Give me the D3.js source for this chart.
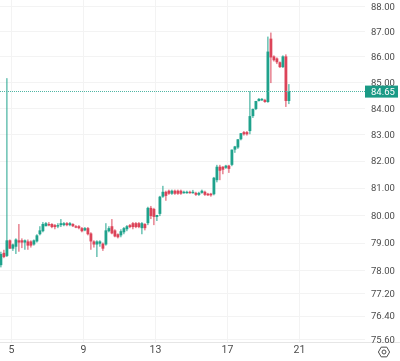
<!DOCTYPE html>
<html>
<head>
<meta charset="utf-8">
<script src="https://cdn.jsdelivr.net/npm/d3@7"></script>
<style>
  html, body { margin: 0; padding: 0; background: #fff; }
  svg { display: block; filter: blur(0.35px); }
  text { font-family: Roboto, "Liberation Sans", sans-serif; }
</style>
</head>
<body>
<div id="chart"></div>
<script>
// Set Dimensions
const width = 400;
const height = 361;

// Candle values, one row per 4h bar
const opens = [78.19,78.63,78.52,79.08,78.78,78.85,79.08,79.08,79.0,79.04,79.04,78.93,79.04,79.30,79.41,79.59,79.67,79.67,79.63,79.59,
  79.63,79.63,79.70,79.63,79.67,79.59,79.59,79.52,79.44,79.52,79.33,79.04,78.93,78.96,78.96,78.93,79.41,79.59,79.44,79.30,
  79.26,79.37,79.48,79.63,79.70,79.70,79.70,79.52,79.67,79.70,80.26,80.22,79.93,80.04,80.67,80.85,80.89,80.78,80.89,80.89,
  80.89,80.81,80.81,80.85,80.81,80.81,80.74,80.81,80.85,80.78,80.78,80.76,81.28,81.78,81.78,81.74,81.82,81.85,82.42,82.50,
  82.81,83.08,83.08,83.12,83.69,83.96,84.27,84.31,84.31,84.23,86.70,86.0,85.92,85.77,85.58,86.0,84.27];
const highs = [78.67,78.74,85.15,79.11,78.96,79.15,79.67,79.15,79.11,79.11,79.08,79.11,79.30,79.59,79.74,79.74,79.74,79.70,79.67,79.70,
  79.85,79.74,79.74,79.74,79.70,79.63,79.63,79.56,79.56,79.56,79.37,79.08,79.08,79.08,79.0,79.70,79.59,79.85,79.48,79.33,
  79.48,79.56,79.63,79.67,79.74,79.74,79.74,79.74,79.70,80.30,80.33,80.26,80.0,80.70,81.07,80.89,80.93,80.93,80.93,80.93,
  80.93,80.89,80.89,80.89,80.92,80.85,80.85,80.93,80.89,80.81,80.81,81.40,81.85,81.85,81.80,81.85,81.85,82.42,82.56,82.81,
  83.04,83.12,83.12,84.65,83.98,84.27,84.38,84.38,84.35,86.78,86.94,86.04,85.96,85.8,86.04,86.08,84.92];
const lows = [78.11,78.44,78.48,78.78,78.70,78.59,78.67,78.80,78.74,78.74,78.82,78.89,79.0,79.26,79.37,79.59,79.59,79.52,79.48,79.52,
  79.56,79.59,79.59,79.59,79.56,79.52,79.48,79.37,79.41,79.26,78.74,78.82,78.48,78.85,78.70,78.89,79.37,79.30,79.19,79.15,
  79.19,79.30,79.41,79.52,79.48,79.52,79.52,79.30,79.44,79.63,79.85,79.63,79.78,79.96,80.63,80.52,80.74,80.74,80.74,80.74,
  80.74,80.78,80.78,80.78,80.78,80.70,80.70,80.78,80.70,80.70,80.67,80.72,81.20,81.28,81.50,81.70,81.55,81.80,82.30,82.45,
  82.77,82.95,82.95,83.0,83.62,83.92,84.25,84.27,84.20,84.20,84.96,85.80,85.70,85.55,85.55,84.04,84.15];
const closes = [78.59,78.48,79.08,78.78,78.93,79.11,79.0,79.0,79.08,78.89,78.89,79.08,79.26,79.44,79.67,79.70,79.63,79.56,79.56,79.63,
  79.70,79.70,79.63,79.70,79.59,79.56,79.52,79.41,79.52,79.30,79.04,78.93,79.04,79.04,78.78,79.44,79.52,79.33,79.22,79.19,
  79.41,79.52,79.59,79.56,79.56,79.56,79.56,79.70,79.52,80.26,79.96,79.93,80.0,80.67,80.85,80.70,80.78,80.89,80.78,80.78,
  80.78,80.85,80.85,80.81,80.85,80.74,80.81,80.89,80.74,80.72,80.72,81.37,81.78,81.63,81.67,81.82,81.70,82.42,82.54,82.81,
  83.04,83.0,83.0,83.69,83.96,84.27,84.35,84.35,84.23,86.19,85.96,85.85,85.77,85.58,86.0,84.27,84.65];

const firstDay = 4.44;
const barsPerDay = 6;
const lastPrice = 84.65;

const dayTicks = [5, 9, 13, 17, 21];
const priceTicks = [88, 87, 86, 85, 84, 83, 82, 81, 80, 79, 78, 77.2, 76.4, 75.6];

const upColor = "#1fa28c";
const downColor = "#dc4459";

// Scales
const x = d3.scaleLinear().domain([5, 21]).range([11, 299]);
const y = d3.scaleLog().domain([88, 75.6]).range([6, 339]);

const bars = closes.map((c, i) => ({
  day: firstDay + i / barsPerDay,
  open: opens[i], high: highs[i], low: lows[i], close: c
}));

// Append SVG Object to the Page
const svg = d3.select("#chart")
  .append("svg")
  .attr("width", width)
  .attr("height", height);

// Grid
const grid = svg.append("g").attr("stroke", "#f3f3f3").attr("stroke-width", 1);
grid.selectAll("line.h")
  .data(priceTicks).enter().append("line")
  .attr("x1", 0).attr("x2", 365)
  .attr("y1", d => Math.round(y(d)) + 0.5)
  .attr("y2", d => Math.round(y(d)) + 0.5);
grid.selectAll("line.v")
  .data(dayTicks).enter().append("line")
  .attr("y1", 0).attr("y2", 343)
  .attr("x1", d => Math.round(x(d)) + 0.5)
  .attr("x2", d => Math.round(x(d)) + 0.5);

// Bottom separator
svg.append("line")
  .attr("x1", 0).attr("x2", 400)
  .attr("y1", 342.5).attr("y2", 342.5)
  .attr("stroke", "#e6e6e6");

// Candles
const candles = svg.append("g").selectAll("g")
  .data(bars).enter().append("g")
  .attr("fill", d => d.close >= d.open ? upColor : downColor)
  .attr("stroke", d => d.close >= d.open ? upColor : downColor);

candles.append("line")
  .attr("x1", d => x(d.day)).attr("x2", d => x(d.day))
  .attr("y1", d => y(d.high)).attr("y2", d => y(d.low))
  .attr("stroke-width", 1);

candles.append("rect")
  .attr("stroke", "none")
  .attr("x", d => x(d.day) - 1.4)
  .attr("width", 2.8)
  .attr("y", d => y(Math.max(d.open, d.close)))
  .attr("height", d => Math.max(1.4, Math.abs(y(d.open) - y(d.close))));

// Last price line
svg.append("line")
  .attr("x1", 0).attr("x2", 365)
  .attr("y1", Math.round(y(lastPrice)) + 0.5).attr("y2", Math.round(y(lastPrice)) + 0.5)
  .attr("stroke", "#4fb6a4")
  .attr("stroke-dasharray", "1 1");

// Price axis
const yAxis = svg.append("g")
  .attr("transform", "translate(365,0)")
  .call(d3.axisRight(y).tickValues(priceTicks).tickFormat(d3.format(".2f")).tickSize(0).tickPadding(6));
yAxis.select(".domain").remove();
yAxis.selectAll("text").attr("fill", "#4c4c4c").style("font-size", "9.5px").style("font-family", "Roboto");

// Last price badge
svg.append("rect")
  .attr("x", 365).attr("width", 33)
  .attr("y", y(lastPrice) - 5.5).attr("height", 12)
  .attr("fill", "#1a9a85");
svg.append("text")
  .attr("x", 371).attr("y", y(lastPrice) + 4)
  .attr("fill", "#fff").style("font-size", "9.5px")
  .text(d3.format(".2f")(lastPrice));

// Day axis
const xAxis = svg.append("g")
  .attr("transform", "translate(0,346)")
  .call(d3.axisBottom(x).tickValues(dayTicks).tickFormat(d3.format("d")).tickSize(0).tickPadding(0));
xAxis.select(".domain").remove();
xAxis.selectAll("text").attr("fill", "#4c4c4c").style("font-size", "10.5px").style("font-family", "Roboto");

// Settings icon
const gear = svg.append("g").attr("transform", "translate(384,352)").attr("fill", "none").attr("stroke", "#4c4c4c");
gear.append("path")
  .attr("d", d3.line().curve(d3.curveLinearClosed)(d3.range(6).map(i => [5.6 * Math.cos(i * Math.PI / 3), 5.6 * Math.sin(i * Math.PI / 3)])))
  .attr("stroke-width", 1);
gear.append("circle").attr("r", 2).attr("stroke-width", 1);
</script>
</body>
</html>
